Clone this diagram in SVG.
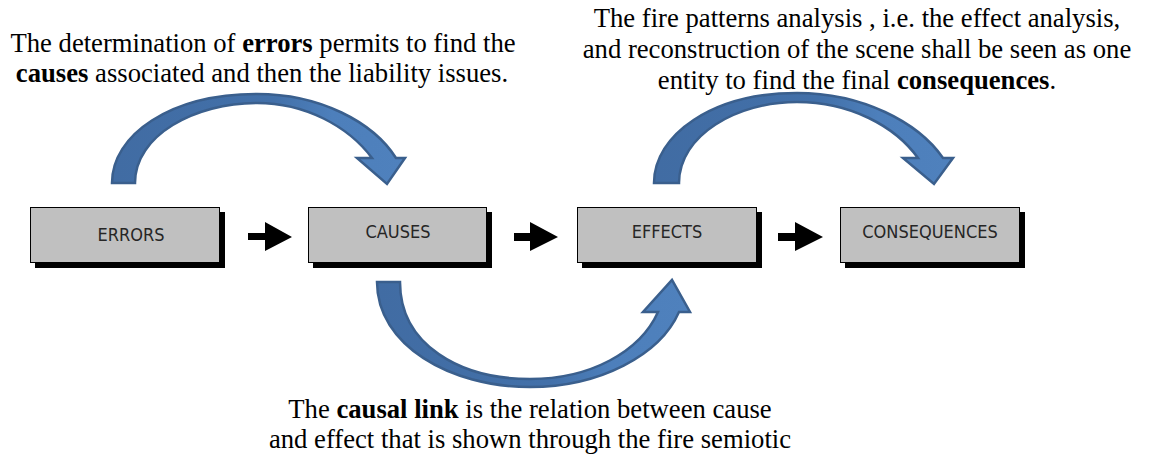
<svg xmlns="http://www.w3.org/2000/svg" width="1151" height="457" viewBox="0 0 1151 457">
<defs>
<linearGradient id="gTop" x1="0" y1="0" x2="1" y2="0">
<stop offset="0" stop-color="#416ca3"/>
<stop offset="0.55" stop-color="#4270a9"/>
<stop offset="0.75" stop-color="#4d7fbb"/>
<stop offset="1" stop-color="#4f81bd"/>
</linearGradient>
</defs>
<style>
.cap{font-family:"Liberation Serif","Times New Roman",serif;font-size:26.67px;fill:#000;text-anchor:middle}
.b{font-weight:bold}
.box{fill:#c0c0c0;stroke:#000;stroke-width:1}
.sh{fill:#000}
.lbl{font-family:"DejaVu Sans","Liberation Sans",sans-serif;font-stretch:condensed;font-size:18px;fill:#262626;text-anchor:middle}
.curve{fill:url(#gTop);stroke:#3a5f8d;stroke-width:2.5;stroke-linejoin:miter}
.blk{fill:#000}
</style>
<g id="text-top-left">
<text class="cap" x="263" y="52">The determination of <tspan class="b">errors</tspan> permits to find the</text>
<text class="cap" x="262" y="82"><tspan class="b">causes</tspan> associated and then the liability issues.</text>
</g>
<g id="text-top-right">
<text class="cap" x="857" y="27">The fire patterns analysis , i.e. the effect analysis,</text>
<text class="cap" x="857" y="58">and reconstruction of the scene shall be seen as one</text>
<text class="cap" x="857" y="89">entity to find the final <tspan class="b">consequences</tspan>.</text>
</g>
<g id="text-bottom">
<text class="cap" x="530" y="418">The <tspan class="b">causal link</tspan> is the relation between cause</text>
<text class="cap" x="530" y="448">and effect that is shown through the fire semiotic</text>
</g>
<g id="node-errors">
<rect class="sh" x="35" y="212" width="190" height="56"/>
<rect class="box" x="30.5" y="207.5" width="189" height="55"/>
<text class="lbl" x="131" y="241">ERRORS</text>
</g>
<g id="node-causes">
<rect class="sh" x="313" y="212" width="179" height="56"/>
<rect class="box" x="308.5" y="207.5" width="178" height="55"/>
<text class="lbl" x="398" y="238">CAUSES</text>
</g>
<g id="node-effects">
<rect class="sh" x="582" y="212" width="180" height="56"/>
<rect class="box" x="577.5" y="207.5" width="179" height="55"/>
<text class="lbl" x="667" y="238">EFFECTS</text>
</g>
<g id="node-consequences">
<rect class="sh" x="845" y="212" width="180" height="56"/>
<rect class="box" x="840.5" y="207.5" width="179" height="55"/>
<text class="lbl" x="930" y="238">CONSEQUENCES</text>
</g>
<g id="connectors">
<polygon class="blk" points="248,233 265,233 265,222 292,237 265,251 265,240 248,240"/>
<polygon class="blk" points="514,233 530,233 530,222 558,237 530,251 530,241 514,241"/>
<polygon class="blk" points="778,233 795,233 795,222 823,237 795,251 795,241 778,241"/>
<path class="curve" d="M112,183 C112,135 170,94 257,94 C320,94 373,122 396,158 L405,158 L387,184 L357,158 L372,158 C348,126 305,103 257,103 C195,103 135,135 135,183 Z"/>
<path class="curve" d="M654,183 C654,135 712,93 797,93 C862,93 918,122 943,158 L953,158 L934,184 L903,158 L918,158 C895,126 850,102 797,102 C737,102 679,135 679,183 Z"/>
<path class="curve" d="M377,282 C377,345 450,387 530,387 C600,387 660,355 679,312 L690,312 L672,280 L643,312 L658,312 C640,352 590,379 530,379 C460,379 400,345 400,282 Z"/>
</g>
</svg>
